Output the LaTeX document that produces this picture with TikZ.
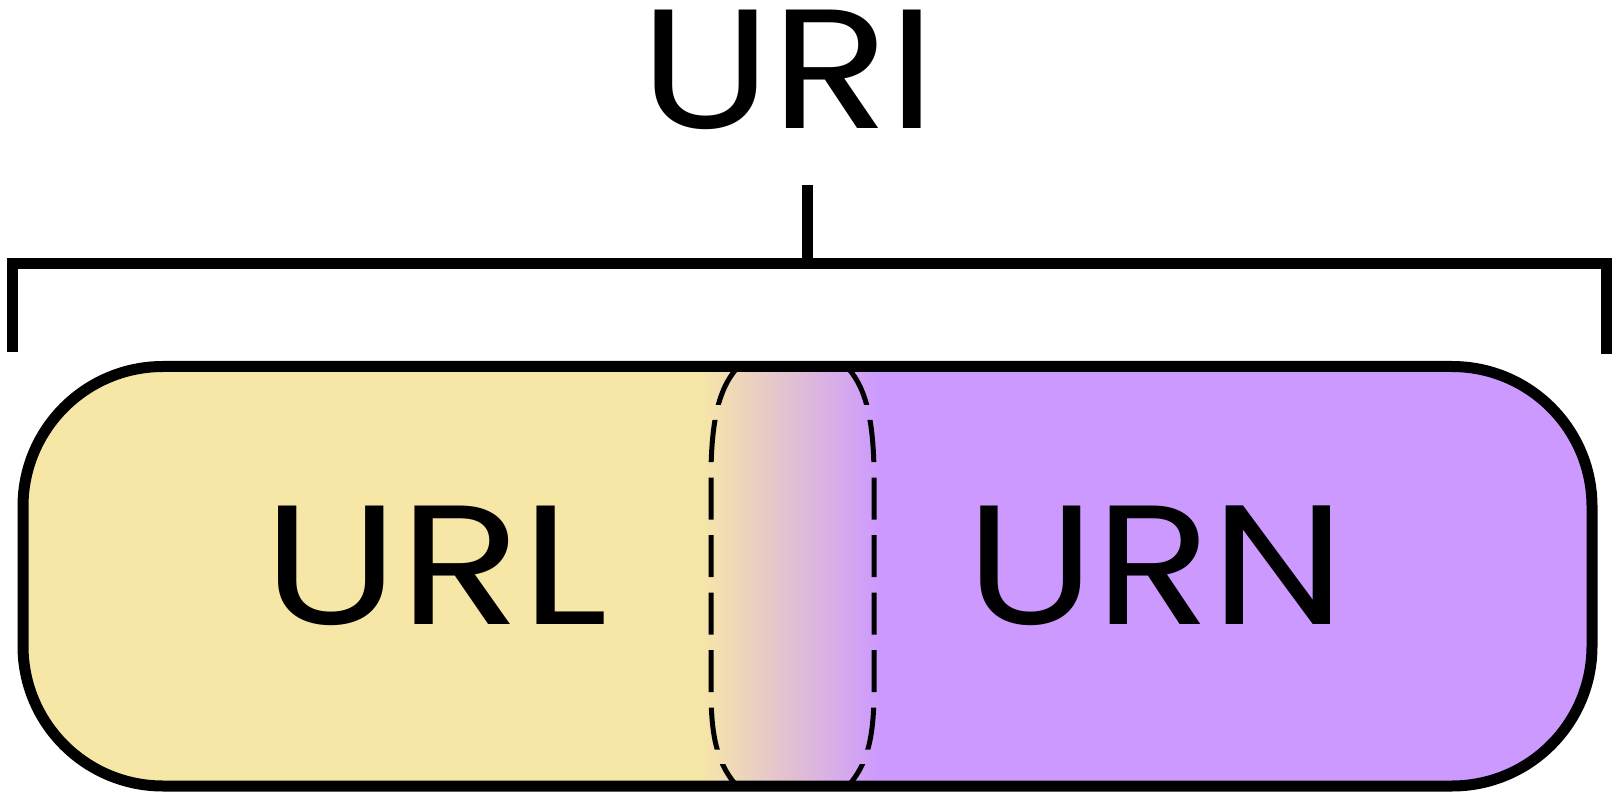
\documentclass[tikz,border=0pt]{standalone}
\usepackage{fontspec}
\setmainfont{Poppins}
\newfontfamily\urifont{Poppins}[FakeStretch=1.14]
\newfontfamily\urlfont{Poppins}[FakeStretch=1.18]
\newfontfamily\urnfont{Poppins}[FakeStretch=1.12]
\definecolor{urlyellow}{RGB}{247,231,166}
\definecolor{urnpurple}{RGB}{204,153,255}
\tikzset{
  heavyline/.style={line width=11pt, draw=black},
  dashside/.style={line width=5pt, draw=black},
  lbl/.style={inner sep=0pt, anchor=base}
}
\newcommand{\bigsize}{\fontsize{170}{170}\selectfont}
\begin{document}
\begin{tikzpicture}[x=1pt,y=-1pt]
\useasboundingbox (0,0) rectangle (1620,799);
% coordinates of the bracket
\coordinate (bl) at (12.5,352);
\coordinate (blt) at (12.5,263.5);
\coordinate (brt) at (1606,263.5);
\coordinate (br) at (1606,354);
\coordinate (stemtop) at (807.5,185);
\coordinate (stembot) at (807.5,263.5);
% fill of the box
\begin{scope}
  \clip[rounded corners=140pt] (23,366.5) rectangle (1592,786);
  \fill[urlyellow] (0,300) rectangle (700,800);
  \fill[urnpurple] (880,300) rectangle (1620,800);
  \shade[left color=urlyellow, right color=urnpurple] (699,300) rectangle (881,800);
  % dashed overlap outline (dashes as bands)
  \begin{scope}
    \clip (680,355) rectangle (910,405)
          (680,420) rectangle (910,462)
          (680,477.5) rectangle (910,519.5)
          (680,535) rectangle (910,577)
          (680,592.5) rectangle (910,634.5)
          (680,650) rectangle (910,692)
          (680,707.5) rectangle (910,749.5)
          (680,764) rectangle (910,800);
    \draw[dashside] (745,360) .. controls (722,380) and (712,410) .. (711,470)
                    -- (711,690) .. controls (711,740) and (718,770) .. (745,794);
    \draw[dashside] (840,360) .. controls (863,380) and (873,410) .. (874,470)
                    -- (874,690) .. controls (874,740) and (867,770) .. (840,794);
  \end{scope}
\end{scope}
\draw[heavyline, rounded corners=140pt] (23,366.5) rectangle (1592,786);
% bracket
\draw[heavyline] (bl) -- (blt) -- (brt) -- (br);
\draw[heavyline] (stemtop) -- (stembot);
% labels
\node[lbl, font=\urifont\bigsize] (uri) at (788.5,129) {URI};
\node[lbl, font=\urlfont\bigsize] (url) at (436,624) {URL};
\node[lbl, font=\urnfont\bigsize] (urn) at (1156,624) {URN};
\end{tikzpicture}
\end{document}
